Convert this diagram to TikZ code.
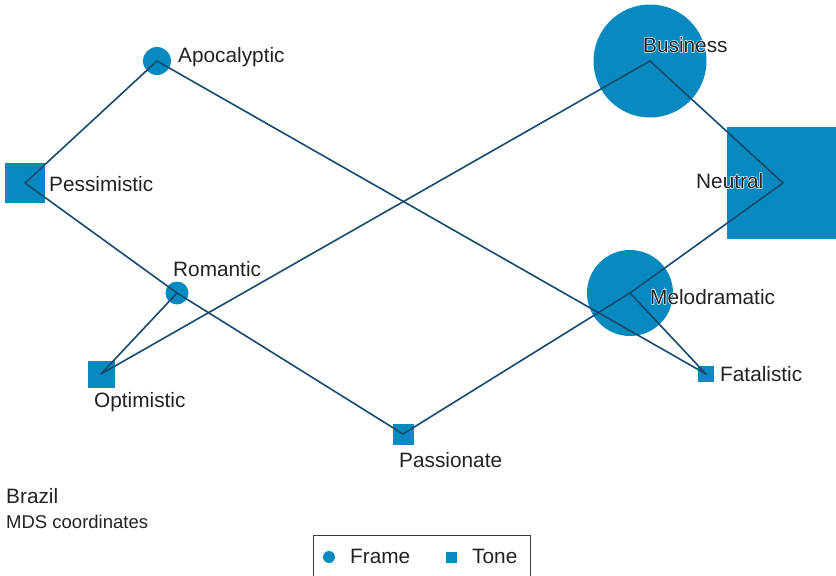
\documentclass[tikz,border=0pt]{standalone}
\usepackage{fontspec}
\setmainfont{Liberation Sans}
\newfontfamily\halofont[FakeBold=6]{Liberation Sans}
\definecolor{markfill}{RGB}{8,137,191}
\definecolor{linkblue}{RGB}{22,74,110}
\definecolor{labelgray}{RGB}{34,34,34}
\definecolor{framegray}{RGB}{60,60,60}
\tikzset{
  framept/.style={circle, fill=markfill, draw=none, inner sep=0pt, minimum size=#1},
  tonept/.style={rectangle, fill=markfill, draw=none, inner sep=0pt, minimum size=#1},
  link/.style={draw=linkblue, line width=1.6pt, line cap=round, line join=round},
  lbl/.style={anchor=base west, inner sep=0pt, text=labelgray,
    font=\fontsize{20.8}{24}\selectfont},
  halolbl/.style={anchor=base west, inner sep=0pt, text=white,
    font=\fontsize{20.8}{24}\selectfont\halofont},
  smalllbl/.style={lbl, font=\fontsize{18.5}{22}\selectfont},
}
\begin{document}
\begin{tikzpicture}[x=1pt, y=-1pt]
  \clip (0,0) rectangle (836,576);

  % frame markers (circles) and tone markers (squares), sized by weight
  \node[framept=28pt]  (apoc)     at (157,61)  {};
  \node[framept=23pt]  (roman)    at (177,293) {};
  \node[framept=113pt] (business) at (650,61)  {};
  \node[framept=86pt]  (melo)     at (630,293) {};
  \node[tonept=40pt]   (pess)     at (25,183)  {};
  \node[tonept=27pt]   (optim)    at (101,374) {};
  \node[tonept=21pt]   (passion)  at (403,434) {};
  \node[tonept=112pt]  (neutral)  at (783,183) {};
  \node[tonept=16pt]   (fatal)    at (706,374) {};

  % links between the coordinates
  \draw[link] (pess.center) -- (apoc.center) -- (fatal.center);
  \draw[link] (pess.center) -- (roman.center) -- (passion.center);
  \draw[link] (roman.center) -- (optim.center) -- (business.center);
  \draw[link] (business.center) -- (neutral.center) -- (melo.center)
              -- (passion.center);
  \draw[link] (melo.center) -- (fatal.center);

  % white halo behind labels that sit on large markers
  \node[halolbl] (businessH) at (643,52)  {Business};
  \node[halolbl] (neutralH)  at (696,188) {Neutral};
  \node[halolbl] (meloH)     at (650,304) {Melodramatic};

  % labels
  \node[lbl] (apocL)     at (178,62)  {Apocalyptic};
  \node[lbl] (pessL)     at (49,191)  {Pessimistic};
  \node[lbl] (romanL)    at (173,276) {Romantic};
  \node[lbl] (optimL)    at (94,407)  {Optimistic};
  \node[lbl] (passionL)  at (399,467) {Passionate};
  \node[lbl] (businessL) at (643,52)  {Business};
  \node[lbl] (neutralL)  at (696,188) {Neutral};
  \node[lbl] (meloL)     at (650,304) {Melodramatic};
  \node[lbl] (fatalL)    at (720,381) {Fatalistic};

  % caption
  \node[lbl]      (country) at (6,503) {Brazil};
  \node[smalllbl] (method)  at (6,528) {MDS coordinates};

  % legend
  \node[draw=framegray, line width=1pt, anchor=north west, inner sep=0pt,
        minimum width=217pt, minimum height=60pt] (legendframe) at (313,535) {};
  \node[framept=12pt] (keyframe) at (329,557) {};
  \node[lbl] (keyframeL) at (350,563) {Frame};
  \node[tonept=11pt] (keytone) at (451,557) {};
  \node[lbl] (keytoneL) at (472,563) {Tone};
\end{tikzpicture}
\end{document}
